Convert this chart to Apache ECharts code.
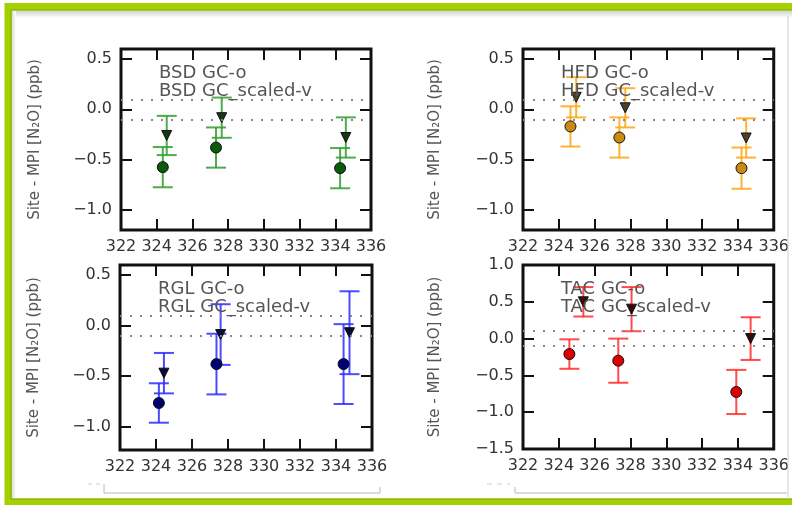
<!DOCTYPE html>
<html>
<head>
<meta charset="utf-8">
<script src="https://cdn.jsdelivr.net/npm/echarts@6/dist/echarts.min.js"></script>
<style>
html, body { margin: 0; padding: 0; background: #fff; }
#chart { width: 792px; height: 505px; }
</style>
</head>
<body>
<div id="chart"></div>
<script>
// sites, one panel each
const sites = ['BSD', 'HFD', 'RGL', 'TAC'];

// [x, y, error] for GC-o (circles) and GC_scaled-v (triangles)
const bsdO = [[324.34, -0.575, 0.20], [327.32, -0.38, 0.20], [334.27, -0.585, 0.20]];
const bsdV = [[324.56, -0.26, 0.195], [327.64, -0.083, 0.20], [334.59, -0.28, 0.20]];
const hfdO = [[324.65, -0.17, 0.20], [327.38, -0.28, 0.20], [334.20, -0.585, 0.205]];
const hfdV = [[324.97, 0.12, 0.20], [327.71, 0.015, 0.195], [334.46, -0.285, 0.195]];
const rglO = [[324.16, -0.765, 0.195], [327.36, -0.38, 0.30], [334.42, -0.38, 0.395]];
const rglV = [[324.44, -0.47, 0.20], [327.59, -0.088, 0.30], [334.75, -0.07, 0.41]];
const tacO = [[324.59, -0.21, 0.20], [327.32, -0.30, 0.30], [333.91, -0.725, 0.30]];
const tacV = [[325.37, 0.50, 0.20], [328.06, 0.40, 0.30], [334.71, 0.0, 0.29]];

const circleData = [bsdO, hfdO, rglO, tacO];
const triangleData = [bsdV, hfdV, rglV, tacV];

// axis limits and tick labels
const xMin = 322, xMax = 336, xStep = 2;
const yLimits = [[-1.2, 0.6], [-1.2, 0.6], [-1.23, 0.6], [-1.5, 1.0]];
const yTicksA = [-1.0, -0.5, 0.0, 0.5];
const yTicksTAC = [-1.5, -1.0, -0.5, 0.0, 0.5, 1.0];
const yTickSets = [yTicksA, yTicksA, yTicksA, yTicksTAC];
const refLevels = [0.1, -0.1];

// panel boxes and colours
const boxes = [
    {left: 121, top: 49, width: 250, height: 181},
    {left: 523, top: 49, width: 252, height: 181},
    {left: 120, top: 265, width: 252, height: 185},
    {left: 523, top: 265, width: 253, height: 184}
];
const barColors = ['#2f9d2f', '#ffa514', '#2b2bff', '#ff2b2b'];
const circleColors = ['#0a5a0a', '#c98a12', '#000070', '#dd0000'];
const triColors = ['#163616', '#4a4030', '#0a0a3a', '#3a0a0a'];

const font = 'DejaVu Sans';

function fmtY(v) {
    if (Math.abs(v) < 1e-9) return '0.0';
    return (v < 0 ? '\u2212' : '') + Math.abs(v).toFixed(1);
}

function errorBar(params, api) {
    var x = api.value(0), y = api.value(1), e = api.value(2);
    var hi = api.coord([x, y + e]);
    var lo = api.coord([x, y - e]);
    var half = 10;
    var st = {stroke: api.visual('color'), lineWidth: 2, opacity: 0.85};
    return {
        type: 'group',
        children: [
            {type: 'line', shape: {x1: hi[0], y1: hi[1], x2: lo[0], y2: lo[1]}, style: st},
            {type: 'line', shape: {x1: hi[0] - half, y1: hi[1], x2: hi[0] + half, y2: hi[1]}, style: st},
            {type: 'line', shape: {x1: lo[0] - half, y1: lo[1], x2: lo[0] + half, y2: lo[1]}, style: st}
        ]
    };
}

const tickStyle = {show: true, inside: true, length: 11, lineStyle: {color: '#111', width: 2}};
const noLine = {show: false, onZero: false};

var grid = [], xAxis = [], yAxis = [], series = [], graphic = [];

// frame round the figure
graphic.push({type: 'rect', z: 1, shape: {x: 8, y: 6.5, width: 800, height: 496},
    style: {fill: 'none', stroke: '#a4cf00', lineWidth: 7}});
graphic.push({type: 'rect', z: 1, shape: {x: 11, y: 10, width: 800, height: 489},
    style: {fill: 'none', stroke: '#8dbb00', lineWidth: 1.5}});
graphic.push({type: 'rect', z: 0, shape: {x: 12, y: 11, width: 780, height: 7},
    style: {fill: new echarts.graphic.LinearGradient(0, 0, 0, 1, [
        {offset: 0, color: '#d4d4d4'}, {offset: 1, color: '#ffffff'}])}});
graphic.push({type: 'rect', z: 0, shape: {x: 12, y: 11, width: 4, height: 488},
    style: {fill: new echarts.graphic.LinearGradient(0, 0, 1, 0, [
        {offset: 0, color: '#dcdcdc'}, {offset: 1, color: '#ffffff'}])}});
graphic.push({type: 'line', z: 1, shape: {x1: 788, y1: 16, x2: 788, y2: 497},
    style: {stroke: '#d0d0d0', lineWidth: 1}});
// leftover brackets at the bottom
graphic.push({type: 'polyline', z: 1, shape: {points: [[104, 484], [104, 493], [380, 493], [380, 487]]},
    style: {stroke: '#b8b8b8', lineWidth: 1, fill: 'none'}});
graphic.push({type: 'polyline', z: 1, shape: {points: [[515, 487], [515, 493], [787, 493]]},
    style: {stroke: '#b8b8b8', lineWidth: 1, fill: 'none'}});
graphic.push({type: 'line', z: 1, shape: {x1: 88, y1: 484, x2: 100, y2: 484},
    style: {stroke: '#cfcfcf', lineWidth: 1, lineDash: [4, 4]}});
graphic.push({type: 'line', z: 1, shape: {x1: 487, y1: 484, x2: 510, y2: 484},
    style: {stroke: '#cfcfcf', lineWidth: 1, lineDash: [5, 5]}});

for (let i = 0; i < 4; i++) {
    const b = boxes[i];
    grid.push({left: b.left, top: b.top, width: b.width, height: b.height,
        show: true, borderColor: '#111', borderWidth: 3, backgroundColor: 'transparent'});

    xAxis.push({
        type: 'value', gridIndex: i, position: 'bottom', min: xMin, max: xMax, interval: xStep,
        axisLine: noLine, splitLine: {show: false}, axisTick: tickStyle,
        axisLabel: {show: true, margin: 9, color: '#333', fontFamily: font, fontSize: 16,
            showMinLabel: true, showMaxLabel: true}
    });
    xAxis.push({
        type: 'value', gridIndex: i, position: 'top', min: xMin, max: xMax, interval: xStep,
        axisLine: noLine, splitLine: {show: false}, axisTick: tickStyle,
        axisLabel: {show: false}
    });

    const yt = yTickSets[i];
    yAxis.push({
        type: 'value', gridIndex: i, position: 'left', min: yLimits[i][0], max: yLimits[i][1],
        axisLine: noLine, splitLine: {show: false},
        axisTick: Object.assign({customValues: yt}, tickStyle),
        axisLabel: {customValues: yt, formatter: fmtY, margin: 9, color: '#333',
            fontFamily: font, fontSize: 16},
        name: 'Site - MPI [N\u2082O] (ppb)', nameLocation: 'middle', nameRotate: 90,
        nameGap: i % 2 === 0 ? 78 : 80,
        nameTextStyle: {color: '#555', fontFamily: font, fontSize: 15}
    });
    yAxis.push({
        type: 'value', gridIndex: i, position: 'right', min: yLimits[i][0], max: yLimits[i][1],
        axisLine: noLine, splitLine: {show: false},
        axisTick: Object.assign({customValues: yt}, tickStyle),
        axisLabel: {show: false}
    });

    const ax = {xAxisIndex: 2 * i, yAxisIndex: 2 * i};
    series.push(Object.assign({
        type: 'custom', renderItem: errorBar, data: circleData[i], z: 2,
        itemStyle: {color: barColors[i]}, encode: {x: 0, y: 1},
        markLine: {
            silent: true, symbol: 'none', label: {show: false},
            lineStyle: {type: [2, 8], color: '#888', width: 2},
            data: refLevels.map(v => ({yAxis: v}))
        }
    }, ax));
    series.push(Object.assign({
        type: 'custom', renderItem: errorBar, data: triangleData[i], z: 2,
        itemStyle: {color: barColors[i]}, encode: {x: 0, y: 1}
    }, ax));
    series.push(Object.assign({
        type: 'scatter', data: circleData[i].map(d => [d[0], d[1]]), z: 3,
        symbol: 'circle', symbolSize: 11,
        itemStyle: {color: circleColors[i], borderColor: '#111', borderWidth: 1, opacity: 1}
    }, ax));
    series.push(Object.assign({
        type: 'scatter', data: triangleData[i].map(d => [d[0], d[1]]), z: 3,
        symbol: 'triangle', symbolRotate: 180, symbolSize: [10, 10],
        itemStyle: {color: triColors[i], borderColor: '#111', borderWidth: 1, opacity: 1}
    }, ax));

    // the two legend lines
    graphic.push({type: 'text', z: 10, x: b.left + 38, y: b.top + 24,
        style: {text: sites[i] + ' GC-o', fill: '#555', font: '18px "DejaVu Sans"', verticalAlign: 'middle'}});
    graphic.push({type: 'text', z: 10, x: b.left + 38, y: b.top + 42,
        style: {text: sites[i] + ' GC_scaled-v', fill: '#555', font: '18px "DejaVu Sans"', verticalAlign: 'middle'}});
}

var myChart = echarts.init(document.getElementById('chart'), null, {renderer: 'canvas'});
myChart.setOption({
    animation: false,
    backgroundColor: '#fff',
    grid: grid,
    xAxis: xAxis,
    yAxis: yAxis,
    series: series,
    graphic: graphic
});
</script>
</body>
</html>
